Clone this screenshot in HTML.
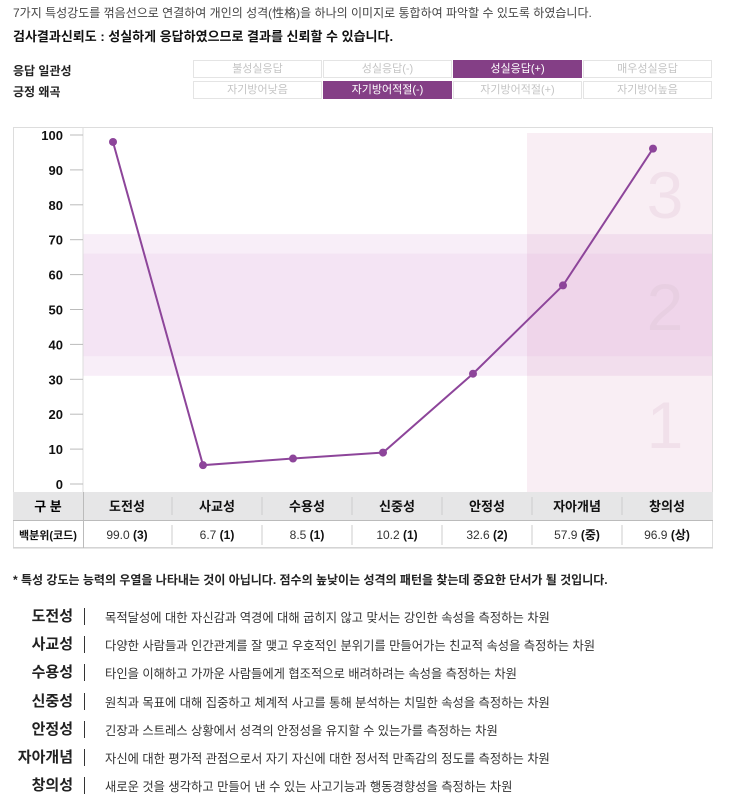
<!DOCTYPE html>
<html><head><meta charset="utf-8">
<style>
*{margin:0;padding:0;box-sizing:border-box}
body{width:730px;height:805px;background:#fff;font-family:"Liberation Sans","Noto Sans CJK KR",sans-serif;color:#222;position:relative;overflow:hidden}
.a{position:absolute;white-space:nowrap}
.cell{position:absolute;height:18px;width:129px;border:1px solid #e4e4e4;color:#c4c4c4;font-size:11px;text-align:center;line-height:16px}
.on{background:#843f86;color:#fff;border-color:#843f86}
.dl{position:absolute;left:0;width:73px;text-align:right;font-weight:bold;font-size:15px}
.db{position:absolute;left:84px;width:1px;height:17px;background:#333}
.dt{position:absolute;left:105px;font-size:12.3px;color:#333}
</style></head><body>
<div class="a" style="left:13px;top:4px;font-size:12px;color:#444">7가지 특성강도를 꺾음선으로 연결하여 개인의 성격(性格)을 하나의 이미지로 통합하여 파악할 수 있도록 하였습니다.</div>
<div class="a" style="left:13px;top:26px;font-size:13px;font-weight:bold;color:#111">검사결과신뢰도 : 성실하게 응답하였으므로 결과를 신뢰할 수 있습니다.</div>
<div class="a" style="left:13px;top:62px;font-size:12px;font-weight:bold">응답 일관성</div>
<div class="a" style="left:13px;top:83px;font-size:12px;font-weight:bold">긍정 왜곡</div>
<div class="cell" style="left:193px;top:60px">불성실응답</div>
<div class="cell" style="left:323px;top:60px">성실응답(-)</div>
<div class="cell on" style="left:453px;top:60px">성실응답(+)</div>
<div class="cell" style="left:583px;top:60px">매우성실응답</div>
<div class="cell" style="left:193px;top:81px">자기방어낮음</div>
<div class="cell on" style="left:323px;top:81px">자기방어적절(-)</div>
<div class="cell" style="left:453px;top:81px">자기방어적절(+)</div>
<div class="cell" style="left:583px;top:81px">자기방어높음</div>

<svg class="a" style="left:0;top:0" width="730" height="560" id="chart">
<rect x="13.5" y="127.5" width="699" height="420" fill="#fff" stroke="#ddd"/>
<g id="bands"></g><g id="axis"></g><g id="table"></g><g id="series"></g>
</svg>

<div class="a" style="left:13px;top:571px;font-size:12px;font-weight:bold;color:#222">* 특성 강도는 능력의 우열을 나타내는 것이 아닙니다. 점수의 높낮이는 성격의 패턴을 찾는데 중요한 단서가 될 것입니다.</div>
<div id="desc"></div>
<script>
const categories=["도전성","사교성","수용성","신중성","안정성","자아개념","창의성"];
const values=[98,5.4,7.3,9.0,31.6,56.9,96.1];
const pctLabels=["99.0","6.7","8.5","10.2","32.6","57.9","96.9"];
const codeLabels=["3","1","1","1","2","중","상"];
const yTicks=[0,10,20,30,40,50,60,70,80,90,100];
const descs=["목적달성에 대한 자신감과 역경에 대해 굽히지 않고 맞서는 강인한 속성을 측정하는 차원","다양한 사람들과 인간관계를 잘 맺고 우호적인 분위기를 만들어가는 친교적 속성을 측정하는 차원","타인을 이해하고 가까운 사람들에게 협조적으로 배려하려는 속성을 측정하는 차원","원칙과 목표에 대해 집중하고 체계적 사고를 통해 분석하는 치밀한 속성을 측정하는 차원","긴장과 스트레스 상황에서 성격의 안정성을 유지할 수 있는가를 측정하는 차원","자신에 대한 평가적 관점으로서 자기 자신에 대한 정서적 만족감의 정도를 측정하는 차원","새로운 것을 생각하고 만들어 낸 수 있는 사고기능과 행동경향성을 측정하는 차원"];
const NS="http://www.w3.org/2000/svg";
const y=v=>484-v*3.49;
const x=i=>113+i*90;
function mk(p,t,a){const e=document.createElementNS(NS,t);for(const k in a)e.setAttribute(k,a[k]);p.appendChild(e);return e;}
const bands=document.getElementById('bands');
let r;
r=mk(bands,'rect',{x:83,y:y(71.6),width:629,height:y(31)-y(71.6),fill:'#f8eef8'});

r=mk(bands,'rect',{x:83,y:y(66),width:629,height:y(36.6)-y(66),fill:'#f4e4f4'});

r=mk(bands,'rect',{x:527,y:133,width:185,height:359,fill:'#c0408a',opacity:0.09});

[["3",218,'#f1e0ea'],["2",330,'#e8cfe2'],["1",448,'#f1e0ea']].forEach(d=>{const t=mk(bands,'text',{x:665,y:d[1],'text-anchor':'middle','font-size':66,fill:d[2],'font-family':'Liberation Sans'});t.textContent=d[0];
});
const ax=document.getElementById('axis');
mk(ax,'line',{x1:83,y1:127,x2:83,y2:492,stroke:'#ddd'});
yTicks.forEach(v=>{const l=mk(ax,'line',{x1:70,x2:83,y1:y(v),y2:y(v),stroke:'#bbb'});

const t=mk(ax,'text',{x:63,y:y(v)+5,'text-anchor':'end','font-size':13,'font-weight':'bold',fill:'#111','font-family':'Liberation Sans'});t.textContent=v;
});
const tb=document.getElementById('table');
mk(tb,'rect',{x:13,y:492,width:700,height:28,fill:'#e6e6e7'});
mk(tb,'line',{x1:13,x2:713,y1:520.5,y2:520.5,stroke:'#bbb'});
mk(tb,'line',{x1:13,x2:713,y1:548,y2:548,stroke:'#ccc'});
mk(tb,'line',{x1:83.5,x2:83.5,y1:492,y2:548,stroke:'#bbb'});
let h=mk(tb,'text',{x:48,y:511,'text-anchor':'middle','font-size':13,'font-weight':'bold'});h.textContent="구 분";

h=mk(tb,'text',{x:48,y:539,'text-anchor':'middle','font-size':11,'font-weight':'bold',fill:'#111'});h.textContent="백분위(코드)";

categories.forEach((c,i)=>{
 const cx=x(i)+14;
 if(i>0){mk(tb,'line',{x1:cx-45,x2:cx-45,y1:497,y2:515,stroke:'#ccc'});mk(tb,'line',{x1:cx-45,x2:cx-45,y1:525,y2:545,stroke:'#ccc'});}
 const t=mk(tb,'text',{x:cx,y:511,'text-anchor':'middle','font-size':13,'font-weight':'bold',fill:'#111'});t.textContent=c;
 
 const p=mk(tb,'text',{x:cx,y:539,'text-anchor':'middle','font-size':12,fill:'#333'});
 
 p.innerHTML=pctLabels[i]+' <tspan font-weight="bold" fill="#111">('+codeLabels[i]+')</tspan>';
});
const s=document.getElementById('series');
const line=mk(s,'polyline',{points:values.map((v,i)=>x(i)+','+y(v)).join(' '),fill:'none',stroke:'#8d459a','stroke-width':2});

values.forEach((v,i)=>{const c=mk(s,'circle',{cx:x(i),cy:y(v),r:4,fill:'#8d459a'});
});
const desc=document.getElementById('desc');
categories.forEach((c,i)=>{const top=605+i*28.2;
 const a=document.createElement('div');a.className='dl';a.style.top=(top)+'px';a.textContent=c;
 
 
 const b=document.createElement('div');b.className='db';b.style.top=(top+3)+'px';
 
 
 const d=document.createElement('div');d.className='dt a';d.style.top=(top+3)+'px';d.textContent=descs[i];
 
 
 desc.append(a,b,d);});
</script>
</body></html>
